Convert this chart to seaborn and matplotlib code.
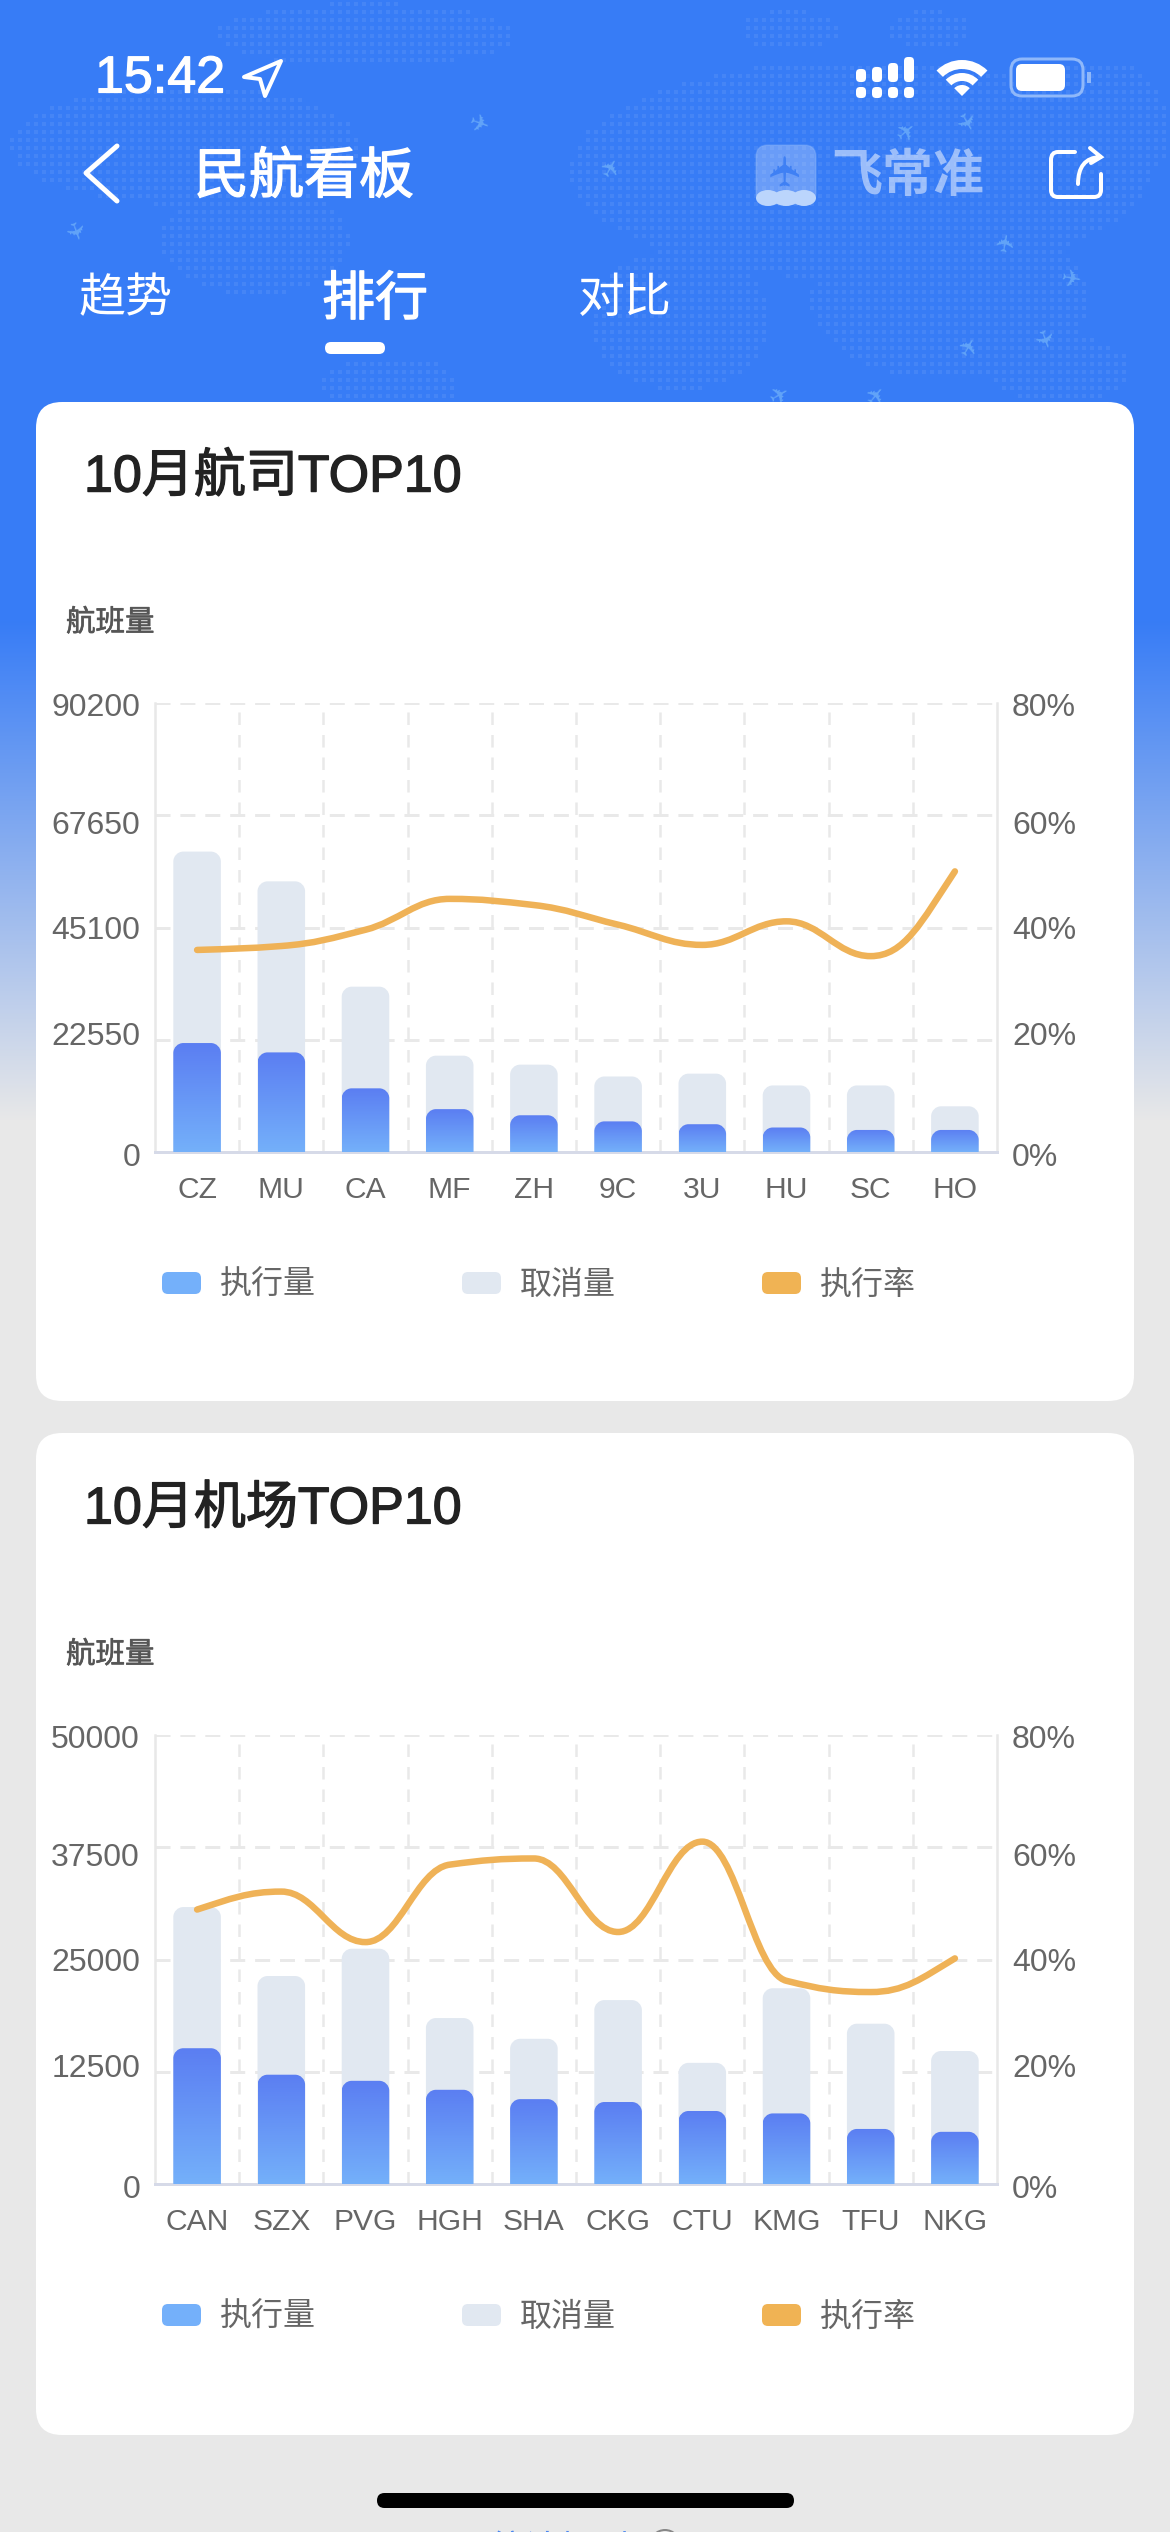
"""Civil aviation dashboard screenshot: two TOP10 bar + rate charts."""

import matplotlib
matplotlib.use("Agg")
import matplotlib.patheffects as pe
import matplotlib.pyplot as plt
from matplotlib.colors import LinearSegmentedColormap
from matplotlib.patches import Circle, Ellipse, FancyBboxPatch, PathPatch, Rectangle, Wedge
from matplotlib.path import Path
from matplotlib.transforms import ScaledTranslation
import numpy as np
import pandas as pd
import seaborn as sns

airlines = ["CZ", "MU", "CA", "MF", "ZH", "9C", "3U", "HU", "SC", "HO"]
airline_total = [60350, 54370, 33210, 19350, 17550, 15170, 15740, 13370, 13370, 9180]
airline_done = [21890, 20010, 12790, 8610, 7380, 6150, 5580, 4920, 4430, 4430]
airline_rate = [36.0, 36.7, 39.6, 45.1, 44.0, 40.5, 36.9, 41.1, 34.9, 50.0]
airline_ticks = [0, 22550, 45100, 67650, 90200]

airports = ["CAN", "SZX", "PVG", "HGH", "SHA", "CKG", "CTU", "KMG", "TFU", "NKG"]
airport_total = [30840, 23160, 26200, 18480, 16170, 20480, 13490, 21800, 17850, 14810]
airport_done = [15120, 12170, 11490, 10490, 9450, 9130, 8130, 7860, 6130, 5810]
airport_rate = [48.9, 52.1, 43.1, 56.9, 58.0, 44.9, 61.0, 36.2, 34.2, 40.2]
airport_ticks = [0, 12500, 25000, 37500, 50000]

rate_ticks = [0, 20, 40, 60, 80]
legend_labels = ["执行量", "取消量", "执行率"]

W, H = 1170, 2532
BLUE_TOP, BLUE_BOTTOM = "#5B7EF2", "#74B0FA"
GREY_BAR = "#E1E8F1"
ORANGE = "#EFB257"
TEXT_GREY = "#666666"
GRID = "#E9E9E9"
# the screenshot's axis labels sit a few pixels off their gridlines
LABEL_NUDGE = [3, -6, 0, 7, 2]

sns.set_theme(style="white")
plt.rcParams["font.family"] = ["Liberation Sans", "Noto Sans CJK SC", "DejaVu Sans"]

# dpi 72: one point is one pixel, so all the sizes below are pixels
fig = plt.figure(figsize=(W / 72, H / 72), dpi=72)
bg = fig.add_axes([0, 0, 1, 1], zorder=0)
bg.set_axis_off()

rows = np.arange(H)
stops = [0, 620, 1120, H]
shade = np.stack([
    np.interp(rows, stops, [0x37, 0x37, 0xE8, 0xE8]),
    np.interp(rows, stops, [0x7C, 0x7C, 0xE8, 0xE8]),
    np.interp(rows, stops, [0xF6, 0xF6, 0xE8, 0xE8]),
], axis=1)[:, None, :] / 255
bg.imshow(shade, extent=(0, W, H, 0), aspect="auto", zorder=0)
bg.set_xlim(0, W)
bg.set_ylim(H, 0)

# faint dotted world map behind the header
gx, gy = np.meshgrid(np.arange(4, W, 8), np.arange(4, 402, 8))
land = np.zeros_like(gx, dtype=bool)
for cx, cy, rx, ry in [(185, 145, 175, 60), (255, 240, 95, 55), (365, 35, 150, 32),
                       (390, 385, 70, 28), (860, 170, 290, 110), (680, 320, 90, 70),
                       (950, 300, 140, 80), (1060, 370, 70, 35), (790, 30, 50, 20),
                       (930, 30, 40, 20), (1100, 130, 70, 70)]:
    land |= ((gx - cx) / rx) ** 2 + ((gy - cy) / ry) ** 2 < 1
bg.scatter(gx[land], gy[land], s=12, marker="s", color="white", alpha=0.07, linewidths=0, zorder=1)
for px, py, rot in [(478, 125, -20), (907, 132, 40), (963, 123, -60), (612, 168, 60),
                    (72, 232, -70), (1007, 242, 80), (1071, 280, -10), (970, 347, 60),
                    (1041, 340, -70), (780, 396, 30), (877, 396, 50)]:
    bg.text(px, py, "\u2708", color="#62A4F9", fontsize=24, rotation=rot, ha="center",
            va="center", family=["DejaVu Sans"], zorder=1)


def heavy(txt, width, color):
    # the fonts here have no medium cut, a thin stroke stands in for it
    txt.set_path_effects([pe.withStroke(linewidth=width, foreground=color)])
    return txt


def card(top, bottom):
    bg.add_patch(FancyBboxPatch((36, top), 1098, bottom - top, boxstyle="round,pad=0,rounding_size=26",
                                facecolor="white", edgecolor="none", zorder=2))


def round_top_path(x0, x1, y1, rx, ry):
    k = 0.45
    verts = [(x0, 0), (x0, y1 - ry), (x0, y1 - ry * k), (x0 + rx * k, y1), (x0 + rx, y1),
             (x1 - rx, y1), (x1 - rx * k, y1), (x1, y1 - ry * k), (x1, y1 - ry), (x1, 0), (x0, 0)]
    codes = [Path.MOVETO, Path.LINETO, Path.CURVE4, Path.CURVE4, Path.CURVE4, Path.LINETO,
             Path.CURVE4, Path.CURVE4, Path.CURVE4, Path.LINETO, Path.CLOSEPOLY]
    return Path(verts, codes)


def smooth_path(xs, ys):
    # monotone cubic through the values: flat at each peak and dip, no overshoot
    xs, ys = np.asarray(xs, float), np.asarray(ys, float)
    sec = np.diff(ys) / np.diff(xs)
    m = np.zeros_like(ys)
    for i in range(1, len(ys) - 1):
        if sec[i - 1] * sec[i] > 0:
            m[i] = 2 * sec[i - 1] * sec[i] / (sec[i - 1] + sec[i])
    m[0] = (3 * sec[0] - m[1]) / 2
    m[-1] = (3 * sec[-1] - m[-2]) / 2
    verts, codes = [(xs[0], ys[0])], [Path.MOVETO]
    for i in range(len(ys) - 1):
        h = (xs[i + 1] - xs[i]) * 0.4
        verts += [(xs[i] + h, ys[i] + m[i] * h), (xs[i + 1] - h, ys[i + 1] - m[i + 1] * h), (xs[i + 1], ys[i + 1])]
        codes += [Path.CURVE4] * 3
    return Path(verts, codes)


def nudge_labels(ax):
    for label, dy in zip(ax.get_yticklabels(), LABEL_NUDGE):
        label.set_transform(label.get_transform() + ScaledTranslation(0, -dy / 72, fig.dpi_scale_trans))


def draw_chart(top, cats, total, done, rate, ticks):
    left, right, height = 155, 997, 449
    ax = fig.add_axes([left / W, 1 - (top + height) / H, (right - left) / W, height / H], zorder=3)
    ax.patch.set_alpha(0)
    df = pd.DataFrame({"code": cats, "total": total, "done": done})

    sns.barplot(data=df, x="code", y="total", color=GREY_BAR, saturation=1, width=0.565, ax=ax)
    n_grey = len(ax.patches)
    sns.barplot(data=df, x="code", y="done", color=BLUE_BOTTOM, saturation=1, width=0.565, ax=ax)

    ymax = ticks[-1]
    ax.set_xlim(-0.5, len(cats) - 0.5)
    ax.set_ylim(0, ymax)
    rx = 10 / ((right - left) / len(cats))
    ry = 10 / height * ymax

    # seaborn's rectangles become rounded-top bars, blue ones with a vertical gradient
    cmap = LinearSegmentedColormap.from_list("bar", [BLUE_BOTTOM, BLUE_TOP])
    ramp = np.linspace(1, 0, 128)[:, None]
    for i, bar in enumerate(list(ax.patches)):
        x0, w, h = bar.get_x(), bar.get_width(), bar.get_height()
        bar.set_visible(False)
        path = round_top_path(x0, x0 + w, h, rx, ry)
        if i < n_grey:
            ax.add_patch(PathPatch(path, facecolor=GREY_BAR, edgecolor="none", zorder=2))
        else:
            clip = PathPatch(path, facecolor="none", edgecolor="none", transform=ax.transData)
            ax.add_patch(clip)
            im = ax.imshow(ramp, cmap=cmap, vmin=0, vmax=1, extent=(x0, x0 + w, 0, h),
                           aspect="auto", zorder=3, interpolation="bilinear")
            im.set_clip_path(clip)
    ax.set_xlim(-0.5, len(cats) - 0.5)
    ax.set_ylim(0, ymax)

    ax.set_axisbelow(True)
    ax.set_xticks(np.arange(len(cats)))
    ax.set_xticklabels(cats)
    ax.set_xticks(np.arange(0.5, len(cats) - 1), minor=True)
    ax.set_yticks(ticks)
    ax.set_xlabel("")
    ax.set_ylabel("")
    ax.grid(False)
    ax.grid(axis="y", which="major", color=GRID, lw=3, ls=(0, (5, 3.3)))
    ax.grid(axis="x", which="minor", color=GRID, lw=2.5, ls=(0, (5, 4)))
    ax.tick_params(axis="x", which="both", length=0)
    ax.tick_params(axis="x", which="major", pad=24, labelsize=30, labelcolor=TEXT_GREY)
    ax.tick_params(axis="y", length=0, pad=15, labelsize=32, labelcolor=TEXT_GREY)
    nudge_labels(ax)
    for side in ["left", "right"]:
        ax.spines[side].set_color("#E8E8E8")
        ax.spines[side].set_linewidth(2.5)
        ax.spines[side].set_visible(True)
    ax.spines["top"].set_visible(False)
    ax.spines["bottom"].set_color("#D6DAE8")
    ax.spines["bottom"].set_linewidth(3)

    ax2 = ax.twinx()
    ax2.patch.set_alpha(0)
    ax2.set_ylim(0, rate_ticks[-1])
    ax2.set_yticks(rate_ticks)
    ax2.set_yticklabels([f"{t}%" for t in rate_ticks])
    ax2.tick_params(axis="y", length=0, pad=15, labelsize=32, labelcolor=TEXT_GREY)
    nudge_labels(ax2)
    ax2.grid(False)
    for spine in ax2.spines.values():
        spine.set_visible(False)
    curve = smooth_path(np.arange(len(cats)), rate)
    ax2.add_patch(PathPatch(curve, facecolor="none", edgecolor=ORANGE, lw=6.5, capstyle="round", zorder=4))

    # y axis caption and legend sit in the card, off the plot
    heavy(bg.text(66, top - 80, "航班量", fontsize=29.5, color="#555555", va="center", zorder=3), 0.6, "#555555")
    for lx, color, label in zip([162, 462, 762], [BLUE_BOTTOM, GREY_BAR, "#F0B354"], legend_labels):
        ly = top + 580
        bg.add_patch(FancyBboxPatch((lx, ly - 11), 39, 22, boxstyle="round,pad=0,rounding_size=6",
                                    facecolor=color, edgecolor="none", zorder=3))
        bg.text(lx + 58, ly + 3, label, fontsize=32, color=TEXT_GREY, va="center", zorder=3)


card(402, 1401)
card(1433, 2435)
for y, title in [(478, "10月航司TOP10"), (1510, "10月机场TOP10")]:
    heavy(bg.text(84, y, title, fontsize=52, color="#222222", va="center", zorder=3), 1.3, "#222222")

draw_chart(703, airlines, airline_total, airline_done, airline_rate, airline_ticks)
draw_chart(1735, airports, airport_total, airport_done, airport_rate, airport_ticks)

# status bar
heavy(bg.text(95, 79, "15:42", fontsize=52, color="white", va="center", zorder=5), 1.2, "white")
bg.add_patch(plt.Polygon([(244, 77), (281, 61), (265, 96), (260, 79)], closed=True, fill=False,
                         edgecolor="white", lw=4, joinstyle="round", zorder=5))
for cx, bar_top in zip([861, 877, 893, 909], [69, 67, 63, 57]):
    bg.add_patch(FancyBboxPatch((cx - 5, 87), 10, 11, boxstyle="round,pad=0,rounding_size=4",
                                facecolor="white", edgecolor="none", zorder=5))
    bg.add_patch(FancyBboxPatch((cx - 5, bar_top), 10, 82 - bar_top, boxstyle="round,pad=0,rounding_size=4",
                                facecolor="white", edgecolor="none", zorder=5))
for radius, width in [(36, 9), (23, 8)]:
    bg.add_patch(Wedge((962, 96), radius, 225, 315, width=width, facecolor="white", edgecolor="none", zorder=5))
bg.add_patch(Wedge((962, 96), 11, 225, 315, facecolor="white", edgecolor="none", zorder=5))
bg.add_patch(FancyBboxPatch((1011, 59), 72, 37, boxstyle="round,pad=0,rounding_size=11",
                            facecolor="none", edgecolor="#8FB8FA", lw=3, zorder=5))
bg.add_patch(FancyBboxPatch((1016, 64), 49, 27, boxstyle="round,pad=0,rounding_size=6",
                            facecolor="white", edgecolor="none", zorder=5))
bg.add_patch(Rectangle((1087, 72), 4, 11, facecolor="#8FB8FA", edgecolor="none", zorder=5))

# nav bar
bg.plot([117, 86, 117], [146, 173, 201], color="white", lw=5, solid_capstyle="round", zorder=5)
heavy(bg.text(304, 179, "民航看板", fontsize=55, color="white", ha="center", va="center", zorder=5), 1.3, "white")
bg.add_patch(FancyBboxPatch((756, 145), 60, 59, boxstyle="round,pad=0,rounding_size=12",
                            facecolor="white", alpha=0.25, edgecolor="#9CC2FB", lw=1.5, zorder=5))
bg.text(786, 168, "\u2708", fontsize=42, color="#3F80F4", rotation=90, ha="center", va="center",
        family=["DejaVu Sans"], zorder=6)
for ex, ew in [(768, 24), (786, 26), (804, 24)]:
    bg.add_patch(Ellipse((ex, 198), ew, 16, facecolor="#BBD5FC", edgecolor="none", zorder=6))
bg.text(908, 178, "飞常准", fontsize=51, color="white", alpha=0.5, weight="bold", ha="center", va="center", zorder=5)
share = Path([(1075, 152), (1058, 152), (1051, 152), (1051, 160), (1051, 190), (1051, 197), (1058, 197),
              (1094, 197), (1101, 197), (1101, 190), (1101, 174)],
             [Path.MOVETO, Path.LINETO, Path.CURVE3, Path.CURVE3, Path.LINETO, Path.CURVE3, Path.CURVE3,
              Path.LINETO, Path.CURVE3, Path.CURVE3, Path.LINETO])
bg.add_patch(PathPatch(share, facecolor="none", edgecolor="white", lw=4, capstyle="round", zorder=5))
arrow = Path([(1078, 184), (1078, 158), (1100, 157), (1090, 148), (1101, 157), (1091, 163)],
             [Path.MOVETO, Path.CURVE3, Path.CURVE3, Path.MOVETO, Path.LINETO, Path.LINETO])
bg.add_patch(PathPatch(arrow, facecolor="none", edgecolor="white", lw=4, capstyle="round", zorder=5))

# tabs
bg.text(125, 300, "趋势", fontsize=47, color="white", ha="center", va="center", zorder=5)
heavy(bg.text(375, 301, "排行", fontsize=53, color="white", ha="center", va="center", zorder=5), 1.3, "white")
bg.text(625, 300, "对比", fontsize=47, color="white", ha="center", va="center", zorder=5)
bg.add_patch(FancyBboxPatch((325, 342), 60, 12, boxstyle="round,pad=0,rounding_size=6",
                            facecolor="white", edgecolor="none", zorder=5))

# home indicator and the footer cut off by the screen edge
bg.add_patch(FancyBboxPatch((377, 2493), 417, 15, boxstyle="round,pad=0,rounding_size=7.5",
                            facecolor="black", edgecolor="none", zorder=5))
bg.text(560, 2551, "统计规则", fontsize=35, color="#4A86EE", ha="center", va="center", zorder=5)
bg.add_patch(Circle((665, 2545), 15, facecolor="none", edgecolor="#888888", lw=2, zorder=5))

fig.savefig("out.png", dpi=72)
